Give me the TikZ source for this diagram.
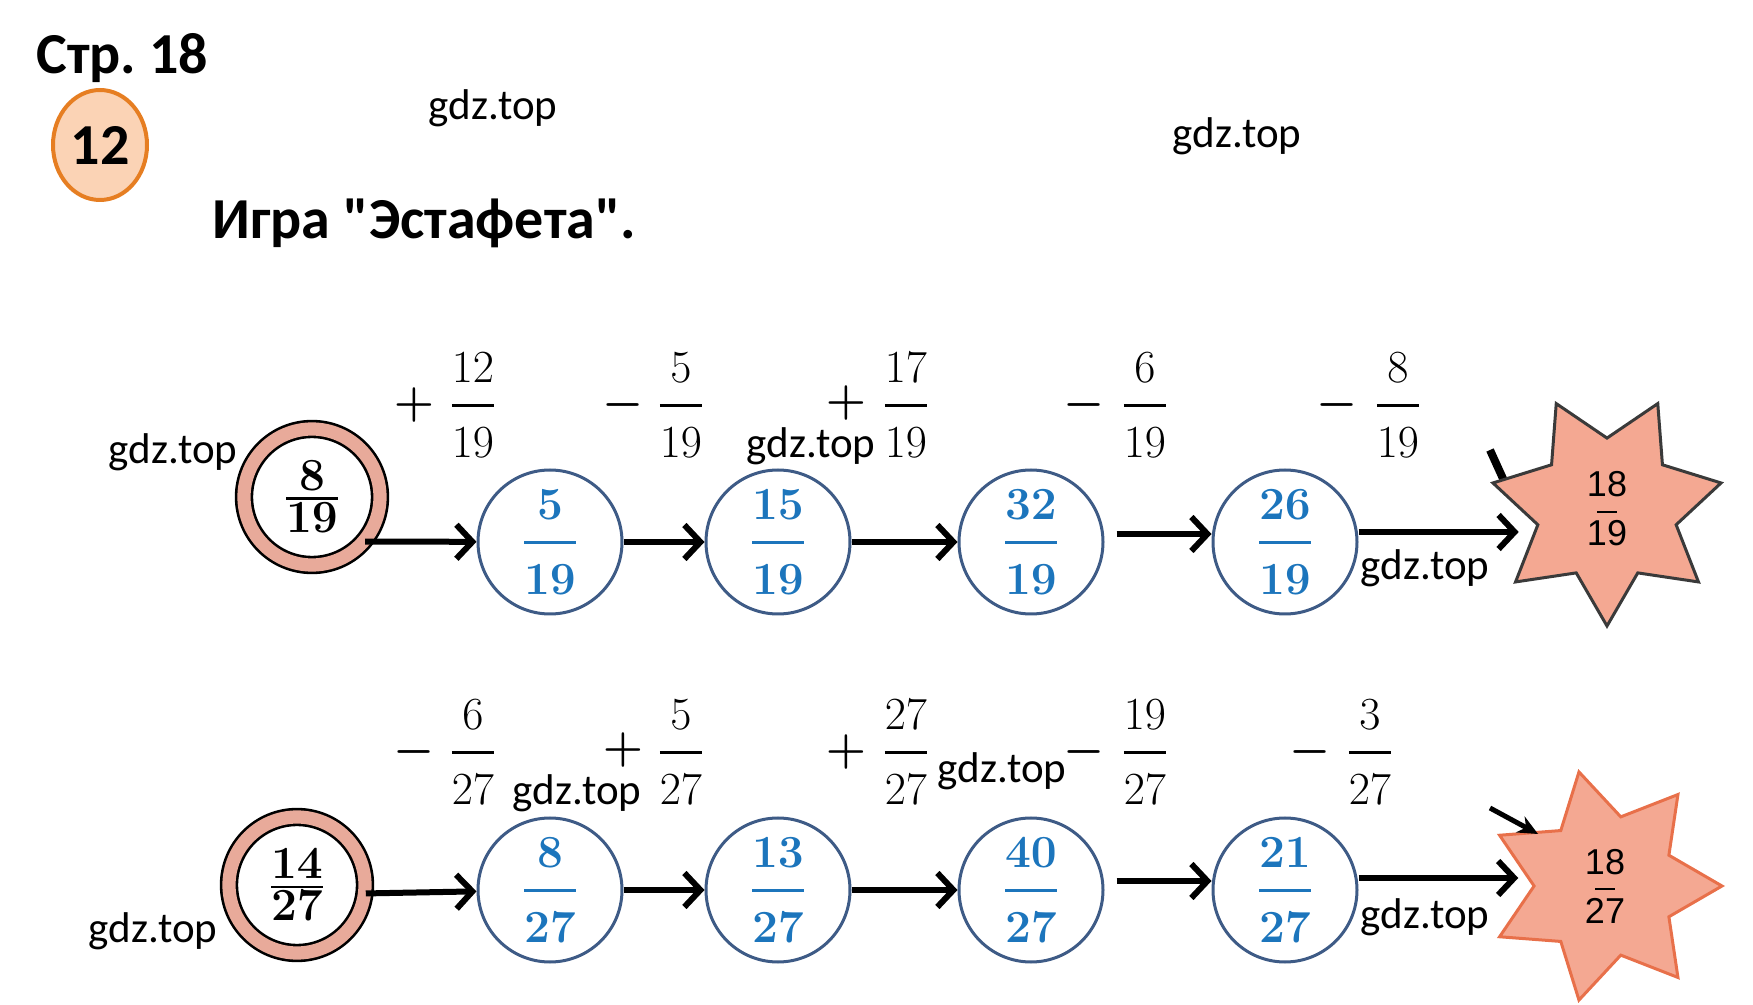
\RequirePackage{fix-cm}
\documentclass[tikz,border=0pt]{standalone}
\usepackage{amsmath}
\usepackage{fontspec}
\newfontfamily\carlito{Carlito}
\newfontfamily\arialf{Liberation Sans}
\usetikzlibrary{arrows.meta,shapes.geometric}

\definecolor{cellblue}{HTML}{1C75BC}
\definecolor{cellline}{HTML}{3E5B86}
\definecolor{ringpink}{HTML}{E8AA9A}
\definecolor{starfill}{HTML}{F4A892}
\definecolor{stardark}{HTML}{3A3A3A}
\definecolor{starred}{HTML}{E8704A}
\definecolor{badgefill}{HTML}{FBD3B5}
\definecolor{badgeline}{HTML}{E67E22}

% fraction with wide gaps round the bar
\newcommand{\fr}[2]{\genfrac{}{}{1.5pt}{0}{\rule[-6pt]{0pt}{6pt}#1}{\rule{0pt}{20.8pt}#2}}
% tight fraction for the start rings
\newcommand{\tfr}[2]{\genfrac{}{}{1.4pt}{1}{\displaystyle #1}{\displaystyle #2}}

\tikzset{
  cell/.style={circle, draw=cellline, line width=1.5pt, minimum size=72pt, inner sep=0pt,
    text=cellblue, font=\fontsize{23}{26}\selectfont\boldmath},
  startring/.style={circle, draw=black, double=ringpink, double distance=6.6pt, line width=1.3pt,
    fill=white, minimum size=68pt, inner sep=0pt, font=\fontsize{23}{26}\selectfont\boldmath},
  goal/.style={star, star points=7, star point ratio=1.65, minimum size=117pt, inner sep=0pt,
    fill=starfill, line width=1.5pt, align=center, font=\arialf\fontsize{18}{8}\selectfont},
  lbl/.style={font=\fontsize{23}{26}\selectfont, inner sep=0pt},
  opsign/.style={font=\fontsize{23}{26}\selectfont\boldmath, inner sep=0pt},
  wm/.style={font=\carlito\fontsize{21.5}{24}\selectfont, inner sep=0pt},
  head/.style={font=\carlito\bfseries\fontsize{29}{32}\selectfont, inner sep=0pt},
  link/.style={-{Straight Barb[length=8pt,width=17pt]}, line width=3pt},
}

\begin{document}
\begin{tikzpicture}[x=0.5pt,y=-0.5pt]
\useasboundingbox (0,0) rectangle (1753,1005);

% heading
\node[head, anchor=base west] (page) at (36,74) {Стр.\ 18};
\node[head, ellipse, draw=badgeline, line width=2pt, fill=badgefill, minimum width=47pt, minimum height=55pt] (num) at (100,145) {12};
\node[head, anchor=base west] (title) at (212,239) {Игра "Эстафета".};

% watermarks
\node[wm] (w1) at (493,108) {gdz.top};
\node[wm] (w2) at (1237,136) {gdz.top};
\node[wm] (w3) at (173,452) {gdz.top};
\node[wm] (w4) at (811,446) {gdz.top};
\node[wm] (w5) at (1425,568) {gdz.top};
\node[wm] (w6) at (577,793) {gdz.top};
\node[wm] (w7) at (1002,771) {gdz.top};
\node[wm] (w8) at (153,931) {gdz.top};
\node[wm] (w9) at (1425,917) {gdz.top};

% first row
\node[opsign] (o1) at (414,405) {$+$};
\node[lbl] (f1) at (473,405) {$\fr{12}{19}$};
\node[opsign] (o2) at (623,405) {$-$};
\node[lbl] (f2) at (681,405) {$\fr{5}{19}$};
\node[opsign] (o3) at (846,403) {$+$};
\node[lbl] (f3) at (906,405) {$\fr{17}{19}$};
\node[opsign] (o4) at (1084,405) {$-$};
\node[lbl] (f4) at (1145,405) {$\fr{6}{19}$};
\node[opsign] (o5) at (1337,405) {$-$};
\node[lbl] (f5) at (1398,405) {$\fr{8}{19}$};

\coordinate (k1) at (1490,450);
\coordinate (k2) at (1510,494);
\draw[line width=4pt] (k1) -- (k2);

\node[startring] (s1) at (312,497) {$\tfr{8}{19}$};
\node[cell] (c1) at (550,542) {$\fr{5}{19}$};
\node[cell] (c2) at (778,542) {$\fr{15}{19}$};
\node[cell] (c3) at (1031,542) {$\fr{32}{19}$};
\node[cell] (c4) at (1285,542) {$\fr{26}{19}$};
\node[goal, draw=stardark, shape border rotate=180] (g1) at (1607,509) {18\\\rule{10pt}{1pt}\\[3pt]19};

\draw[link] (s1.-40) -- (c1);
\draw[link] (c1) -- (c2);
\draw[link] (c2) -- (c3);
\draw[link] ([xshift=6pt,yshift=4pt]c3.east) -- ([yshift=4pt]c4.west);
\draw[link] ([yshift=5pt]c4.east) -- ([yshift=5pt]c4.east -| g1.west);

% second row
\node[opsign] (o6) at (414,752) {$-$};
\node[lbl] (f6) at (473,752) {$\fr{6}{27}$};
\node[opsign] (o7) at (623,750) {$+$};
\node[lbl] (f7) at (681,752) {$\fr{5}{27}$};
\node[opsign] (o8) at (846,752) {$+$};
\node[lbl] (f8) at (906,752) {$\fr{27}{27}$};
\node[opsign] (o9) at (1084,752) {$-$};
\node[lbl] (f9) at (1145,752) {$\fr{19}{27}$};
\node[opsign] (o10) at (1310,752) {$-$};
\node[lbl] (f10) at (1370,752) {$\fr{3}{27}$};

\node[startring] (s2) at (297,885) {$\tfr{14}{27}$};
\node[cell] (d1) at (550,890) {$\fr{8}{27}$};
\node[cell] (d2) at (778,890) {$\fr{13}{27}$};
\node[cell] (d3) at (1031,890) {$\fr{40}{27}$};
\node[cell] (d4) at (1285,890) {$\fr{21}{27}$};
\node[goal, draw=starred, shape border rotate=270] (g2) at (1605,886) {18\\\rule{10pt}{1pt}\\[3pt]27};

\coordinate (k3) at (1490,808);
\coordinate (k4) at (1538,834);
\draw[-{Stealth[length=10pt,width=9pt]}, line width=2.5pt] (k3) -- (k4);

\draw[link] (s2.-7) -- (d1);
\draw[link] (d1) -- (d2);
\draw[link] (d2) -- (d3);
\draw[link] ([xshift=6pt,yshift=4.5pt]d3.east) -- ([yshift=4.5pt]d4.west);
\draw[link, shorten >=7pt] ([yshift=6pt]d4.east) -- ([yshift=6pt]d4.east -| g2.west);

\end{tikzpicture}
\end{document}
